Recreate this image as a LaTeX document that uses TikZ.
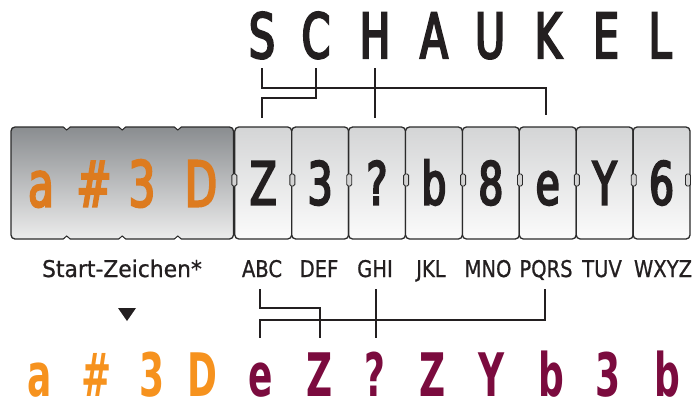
\documentclass[tikz,border=0pt]{standalone}
\usepackage{fontspec}
\setmainfont{DejaVu Sans}
\newfontfamily\narrowfont[FakeStretch=0.6]{DejaVu Sans}
\newfontfamily\midfont[FakeStretch=0.66,FakeBold=3.5]{DejaVu Sans}
\newfontfamily\labelfont[FakeStretch=0.85,FakeBold=0.8]{DejaVu Sans}
\newfontfamily\startfont[FakeStretch=0.95,FakeBold=0.8]{DejaVu Sans}
\definecolor{tiletop}{HTML}{D4D5D6}
\definecolor{tilebot}{HTML}{FBFBFB}
\definecolor{darktop}{HTML}{8A8D90}
\definecolor{darkbot}{HTML}{ECECEC}
\definecolor{tileline}{HTML}{2B2B2B}
\definecolor{orangeA}{HTML}{DD7B1F}
\definecolor{orangeB}{HTML}{F6921E}
\definecolor{maroon}{HTML}{7B0B3E}
\definecolor{ink}{HTML}{231F20}
\begin{document}
\begin{tikzpicture}[x=1pt,y=-1pt,
  tile/.style={draw=tileline, line width=1.3pt, rounded corners=4pt,
    top color=tiletop, bottom color=tilebot, minimum width=56.9pt,
    minimum height=112pt, inner sep=0pt, text height=43pt, text depth=0pt,
    text=ink, font={\midfont\fontsize{59}{60}\selectfont}},
  darkblock/.style={draw=tileline, line width=1.3pt, rounded corners=4pt,
    top color=darktop, bottom color=darkbot, minimum width=222.5pt,
    minimum height=112pt, inner sep=0pt},
  hinge/.style={draw=tileline, fill=gray!35, line width=0.9pt,
    minimum width=5pt, minimum height=12pt, rounded corners=1.5pt, inner sep=0pt},
  startletter/.style={anchor=base, inner sep=0pt, text=orangeA,
    font={\midfont\fontsize{63}{64}\selectfont}},
  topletter/.style={anchor=base, inner sep=0pt, text=ink,
    font={\midfont\fontsize{62}{63}\selectfont}},
  keylabel/.style={anchor=base, inner sep=0pt, text=ink,
    font={\labelfont\fontsize{23}{24}\selectfont}},
  outorange/.style={anchor=base, inner sep=0pt, text=orangeB,
    font={\narrowfont\bfseries\fontsize{60}{61}\selectfont}},
  outmaroon/.style={anchor=base, inner sep=0pt, text=maroon,
    font={\narrowfont\bfseries\fontsize{60}{61}\selectfont}},
  link/.style={draw=ink, line width=2pt}
]
\useasboundingbox (0,0) rectangle (696,400);

% top word
\node[topletter] (w1) at (262,58) {S};
\node[topletter] (w2) at (316,58) {C};
\node[topletter] (w3) at (375,58) {H};
\node[topletter] (w4) at (434,58) {A};
\node[topletter] (w5) at (490,58) {U};
\node[topletter] (w6) at (548,58) {K};
\node[topletter] (w7) at (606,58) {E};
\node[topletter] (w8) at (660,58) {L};

% start block
\node[darkblock] (start) at (122.25,183) {};
\foreach \x in {66.7,122.2,177.8}{
  \fill[white] (\x-3.5,126) -- (\x+3.5,126) -- (\x,130) -- cycle;
  \draw[tileline, line width=1pt] (\x-3.5,127) -- (\x,130) -- (\x+3.5,127);
  \fill[white] (\x-3.5,240) -- (\x+3.5,240) -- (\x,236) -- cycle;
  \draw[tileline, line width=1pt] (\x-3.5,239) -- (\x,236) -- (\x+3.5,239);
}
\node[startletter] (s1) at (41,206.5) {a};
\node[startletter] (s2) at (94,206.5) {\#};
\node[startletter] (s3) at (142,206.5) {3};
\node[startletter] (s4) at (201,206.5) {D};

% tiles
\node[tile] (t1) at (263.25,183) {Z};
\node[tile] (t2) at (320.15,183) {3};
\node[tile] (t3) at (377.05,183) {?};
\node[tile] (t4) at (433.95,183) {b};
\node[tile] (t5) at (490.85,183) {8};
\node[tile] (t6) at (547.75,183) {e};
\node[tile] (t7) at (604.65,183) {Y};
\node[tile] (t8) at (661.55,183) {6};

% hinges
\node[hinge] (h0) at (234.3,180) {};
\node[hinge] (h1) at (t1.east |- 0,180) {};
\node[hinge] (h2) at (t2.east |- 0,180) {};
\node[hinge] (h3) at (t3.east |- 0,180) {};
\node[hinge] (h4) at (t4.east |- 0,180) {};
\node[hinge] (h5) at (t5.east |- 0,180) {};
\node[hinge] (h6) at (t6.east |- 0,180) {};
\node[hinge] (h7) at (t7.east |- 0,180) {};
\node[hinge] (h8) at (688,180) {};

% key labels
\node[keylabel, font={\startfont\fontsize{23}{24}\selectfont}] (lst) at (122,277) {Start-Zeichen*};
\node[keylabel] (l2) at (262,277) {ABC};
\node[keylabel] (l3) at (319,277) {DEF};
\node[keylabel] (l4) at (375,277) {GHI};
\node[keylabel] (l5) at (431,277) {JKL};
\node[keylabel] (l6) at (488,277) {MNO};
\node[keylabel] (l7) at (546,277) {PQRS};
\node[keylabel] (l8) at (602,277) {TUV};
\node[keylabel] (l9) at (663,277) {WXYZ};

\fill[ink] (118,308) -- (136,308) -- (127,321) -- cycle;

% output row
\node[outorange] (o1) at (40,396) {a};
\node[outorange] (o2) at (97,396) {\#};
\node[outorange] (o3) at (152,396) {3};
\node[outorange] (o4) at (202,396) {D};
\node[outmaroon] (o5) at (261,396) {e};
\node[outmaroon] (o6) at (320,396) {Z};
\node[outmaroon] (o7) at (375,396) {?};
\node[outmaroon] (o8) at (433,396) {Z};
\node[outmaroon] (o9) at (492,396) {Y};
\node[outmaroon] (o10) at (551,396) {b};
\node[outmaroon] (o11) at (608,396) {3};
\node[outmaroon] (o12) at (667,396) {b};

% top connectors
\coordinate (cS) at (262,68);
\coordinate (cSk) at (546,88);
\coordinate (cSe) at (546,115);
\coordinate (cC) at (316,68);
\coordinate (cCk) at (262,98);
\coordinate (cCe) at (262,118);
\coordinate (cH) at (375,68);
\coordinate (cHe) at (375,118);
\draw[link] (cS) |- (cSk) -- (cSe);
\draw[link] (cC) |- (cCk) -- (cCe);
\draw[link] (cH) -- (cHe);

% bottom connectors
\coordinate (bA) at (260,289);
\coordinate (bAk) at (320,308);
\coordinate (bAe) at (320,338);
\coordinate (bP) at (545,289);
\coordinate (bPk) at (260,320);
\coordinate (bPe) at (260,338);
\coordinate (bG) at (376,289);
\coordinate (bGe) at (376,338);
\draw[link] (bA) |- (bAk) -- (bAe);
\draw[link] (bP) |- (bPk) -- (bPe);
\draw[link] (bG) -- (bGe);
\end{tikzpicture}
\end{document}
